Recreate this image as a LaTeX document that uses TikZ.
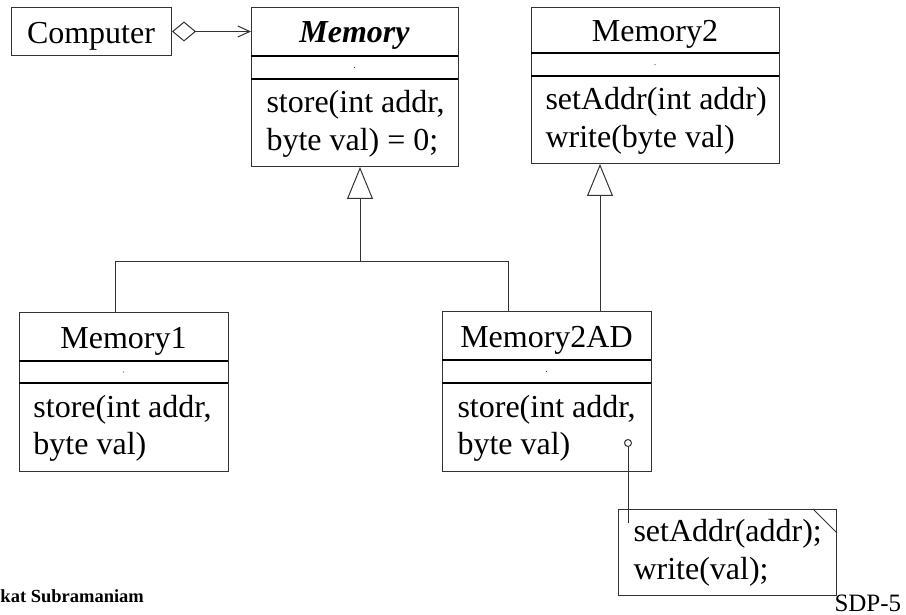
\documentclass[tikz,border=0pt]{standalone}
\usepackage{fontspec}
\setmainfont{Liberation Serif}
\usetikzlibrary{arrows.meta}
\begin{document}
\begin{tikzpicture}[x=1pt,y=-1pt,line width=1pt,
  ln/.style={draw=black!80,line width=1pt},
  box/.style={draw=black!80,line width=1pt,anchor=north west,inner sep=0pt},
  sepline/.style={draw=black,line width=1.6pt},
  big/.style={font=\fontsize{32}{37.5}\selectfont,inner sep=0pt},
  cname/.style={big,anchor=base},
  meth/.style={big,align=left,anchor=west},
  gen/.style={ln,-{Triangle[open,length=32pt,width=26pt]}},
  dotmark/.style={fill=black!70}]
\useasboundingbox (0,0) rectangle (906,615);

% Computer
\node[box,minimum width=160pt,minimum height=48pt] (comp) at (11,7) {};
\node[cname] (compt) at (91,43.5) {Computer};

% Memory
\node[box,minimum width=207pt,minimum height=159pt] (mem) at (251,7) {};
\draw[sepline] (251,56) -- (458,56);
\draw[sepline] (251,79) -- (458,79);
\node[cname] (memt) at (354.5,43) {\bfseries\itshape Memory};
\fill[dotmark] (354.5,67.5) circle (0.6);
\node[meth] (memm) at (266,124) {store(int addr,\\byte val) = 0;};

% Memory2
\node[box,minimum width=248pt,minimum height=156pt] (mem2) at (531,7) {};
\draw[sepline] (531,53) -- (779,53);
\draw[sepline] (531,76) -- (779,76);
\node[cname] (mem2t) at (655,41.5) {Memory2};
\fill[dotmark] (655,64.5) circle (0.6);
\node[meth] (mem2m) at (545,121) {setAddr(int addr)\\write(byte val)};

% Memory1
\node[box,minimum width=209pt,minimum height=159pt] (m1) at (19,312) {};
\draw[sepline] (19,361) -- (228,361);
\draw[sepline] (19,383) -- (228,383);
\node[cname] (m1t) at (123.5,348) {Memory1};
\fill[dotmark] (123.5,372) circle (0.6);
\node[meth] (m1m) at (33,428.5) {store(int addr,\\byte val)};

% Memory2AD
\node[box,minimum width=209pt,minimum height=160pt] (m2ad) at (442,311) {};
\draw[sepline] (442,360) -- (651,360);
\draw[sepline] (442,383) -- (651,383);
\node[cname] (m2adt) at (546.5,347) {Memory2AD};
\fill[dotmark] (546.5,371.5) circle (0.6);
\node[meth] (m2adm) at (457,428.5) {store(int addr,\\byte val)};

% Note
\node[box,minimum width=218pt,minimum height=86pt] (note) at (618,509) {};
\draw[ln] ([xshift=-24pt]note.north east) -- ([yshift=-24pt]note.north east);
\node[meth] (notet) at (633,553) {setAddr(addr);\\write(val);};

% Aggregation / association
\draw[ln,{Diamond[open,length=24pt,width=20pt]}-{Straight Barb[length=12pt,width=11pt]}]
  (comp.east) -- (comp.east -| mem.west);

% Generalization tree
\coordinate (j) at (360,262);
\coordinate (jl) at (115,262);
\coordinate (jr) at (508,262);
\draw[ln] (m1.north -| jl) -- (jl) -- (jr) -- (m2ad.north -| jr);
\draw[gen] (j) -- (j |- mem.south);
\coordinate (k) at (600,0);
\draw[gen] (k |- m2ad.north) -- (k |- mem2.south);

% Note attachment
\node[draw=black!80,line width=1pt,circle,inner sep=0pt,minimum size=7pt] (pin) at (628,443) {};
\coordinate (nend) at (628,523);
\draw[ln] (pin.south) -- (nend);

% Footer
\node[font=\fontsize{18.5}{22}\selectfont\bfseries,inner sep=0pt,anchor=base west] (auth) at (0,602) {kat Subramaniam};
\node[font=\fontsize{25}{28}\selectfont,inner sep=0pt,anchor=base west] (sdp) at (834,611) {SDP-5};
\end{tikzpicture}
\end{document}
